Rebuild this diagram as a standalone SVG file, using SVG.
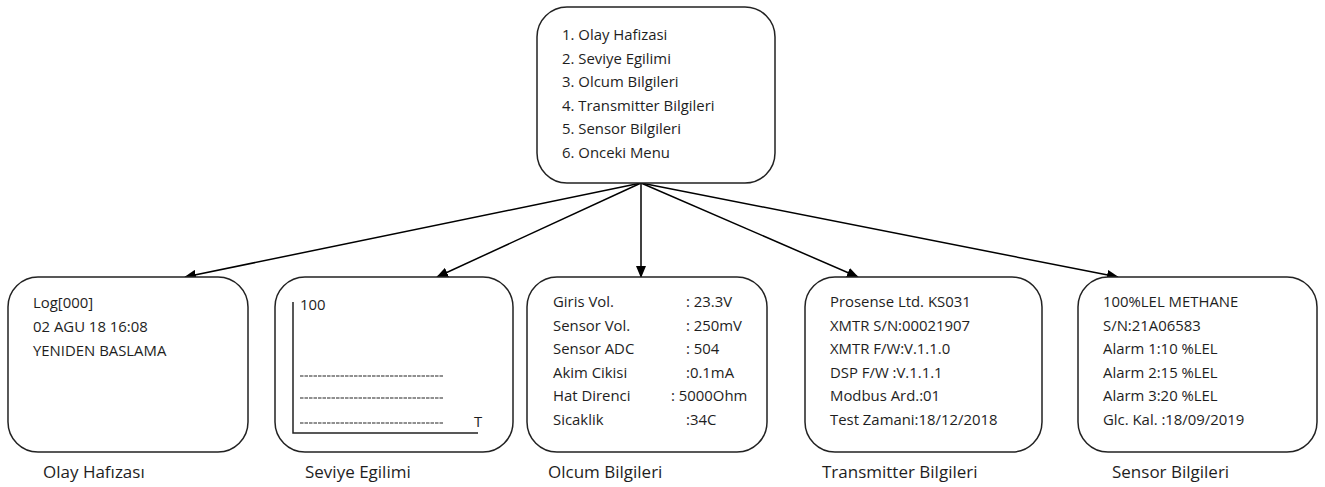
<svg xmlns="http://www.w3.org/2000/svg" width="1325" height="487" viewBox="0 0 1325 487">
<defs>
<marker id="ah" markerWidth="12" markerHeight="10" refX="11" refY="5" orient="auto" markerUnits="userSpaceOnUse">
<path d="M0,0 L12,5 L0,10 Z" fill="#000"/>
</marker>
<style>
.box{fill:#fff;stroke:#222;stroke-width:1.5}
.t{font-family:"Open Sans","Liberation Sans",sans-serif;font-size:14.9px;fill:#1e1e1e}
.lbl{font-family:"Open Sans","Liberation Sans",sans-serif;font-size:17px;fill:#1e1e1e}
.c{stroke:#000;stroke-width:1.5;fill:none;marker-end:url(#ah)}
.ax{stroke:#222;stroke-width:1.5;fill:none}
.dl{stroke:#222;stroke-width:1.1;stroke-dasharray:3.5,1;fill:none}
</style>
</defs>
<rect width="1325" height="487" fill="#fff"/>
<g id="connectors">
<line class="c" x1="641" y1="183" x2="185" y2="277"/>
<line class="c" x1="641" y1="183" x2="437" y2="277"/>
<line class="c" x1="641" y1="183" x2="641" y2="277"/>
<line class="c" x1="641" y1="183" x2="858" y2="277"/>
<line class="c" x1="641" y1="183" x2="1118" y2="277"/>
</g>
<g id="menu">
<rect class="box" x="537" y="7" width="238" height="176" rx="30"/>
<text class="t" x="562" y="40">1. Olay Hafizasi</text>
<text class="t" x="562" y="63.5">2. Seviye Egilimi</text>
<text class="t" x="562" y="87">3. Olcum Bilgileri</text>
<text class="t" x="562" y="110.5">4. Transmitter Bilgileri</text>
<text class="t" x="562" y="134">5. Sensor Bilgileri</text>
<text class="t" x="562" y="157.5">6. Onceki Menu</text>
</g>
<g id="olay">
<rect class="box" x="8" y="277" width="240" height="175" rx="30"/>
<text class="t" x="33" y="308">Log[000]</text>
<text class="t" x="33" y="332">02 AGU 18 16:08</text>
<text class="t" x="33" y="356">YENIDEN BASLAMA</text>
<text class="lbl" x="43" y="478">Olay Hafızası</text>
</g>
<g id="seviye">
<rect class="box" x="275" y="277" width="238" height="175" rx="30"/>
<text class="t" x="300" y="310">100</text>
<path class="ax" d="M293,302 V433 H478"/>
<line class="dl" x1="300" y1="376" x2="443" y2="376"/>
<line class="dl" x1="300" y1="398" x2="443" y2="398"/>
<line class="dl" x1="300" y1="423" x2="443" y2="423"/>
<text class="t" x="474" y="427">T</text>
<text class="lbl" x="305" y="478">Seviye Egilimi</text>
</g>
<g id="olcum">
<rect class="box" x="527" y="277" width="240" height="175" rx="30"/>
<text class="t" x="553" y="307">Giris Vol.</text>
<text class="t" x="553" y="331">Sensor Vol.</text>
<text class="t" x="553" y="354">Sensor ADC</text>
<text class="t" x="553" y="378">Akim Cikisi</text>
<text class="t" x="553" y="401">Hat Direnci</text>
<text class="t" x="553" y="425">Sicaklik</text>
<text class="t" x="686" y="307">: 23.3V</text>
<text class="t" x="686" y="331">: 250mV</text>
<text class="t" x="686" y="354">: 504</text>
<text class="t" x="686" y="378">:0.1mA</text>
<text class="t" x="671" y="401">: 5000Ohm</text>
<text class="t" x="686" y="425">:34C</text>
<text class="lbl" x="548" y="478">Olcum Bilgileri</text>
</g>
<g id="transmitter">
<rect class="box" x="805" y="277" width="237" height="175" rx="30"/>
<text class="t" x="830" y="307">Prosense Ltd. KS031</text>
<text class="t" x="830" y="331">XMTR S/N:00021907</text>
<text class="t" x="830" y="354">XMTR F/W:V.1.1.0</text>
<text class="t" x="830" y="378">DSP F/W :V.1.1.1</text>
<text class="t" x="830" y="401">Modbus Ard.:01</text>
<text class="t" x="830" y="425">Test Zamani:18/12/2018</text>
<text class="lbl" x="822" y="478">Transmitter Bilgileri</text>
</g>
<g id="sensor">
<rect class="box" x="1078" y="277" width="239" height="175" rx="30"/>
<text class="t" x="1103" y="307">100%LEL METHANE</text>
<text class="t" x="1103" y="331">S/N:21A06583</text>
<text class="t" x="1103" y="354">Alarm 1:10 %LEL</text>
<text class="t" x="1103" y="378">Alarm 2:15 %LEL</text>
<text class="t" x="1103" y="401">Alarm 3:20 %LEL</text>
<text class="t" x="1103" y="425">Glc. Kal. :18/09/2019</text>
<text class="lbl" x="1112" y="478">Sensor Bilgileri</text>
</g>
</svg>
